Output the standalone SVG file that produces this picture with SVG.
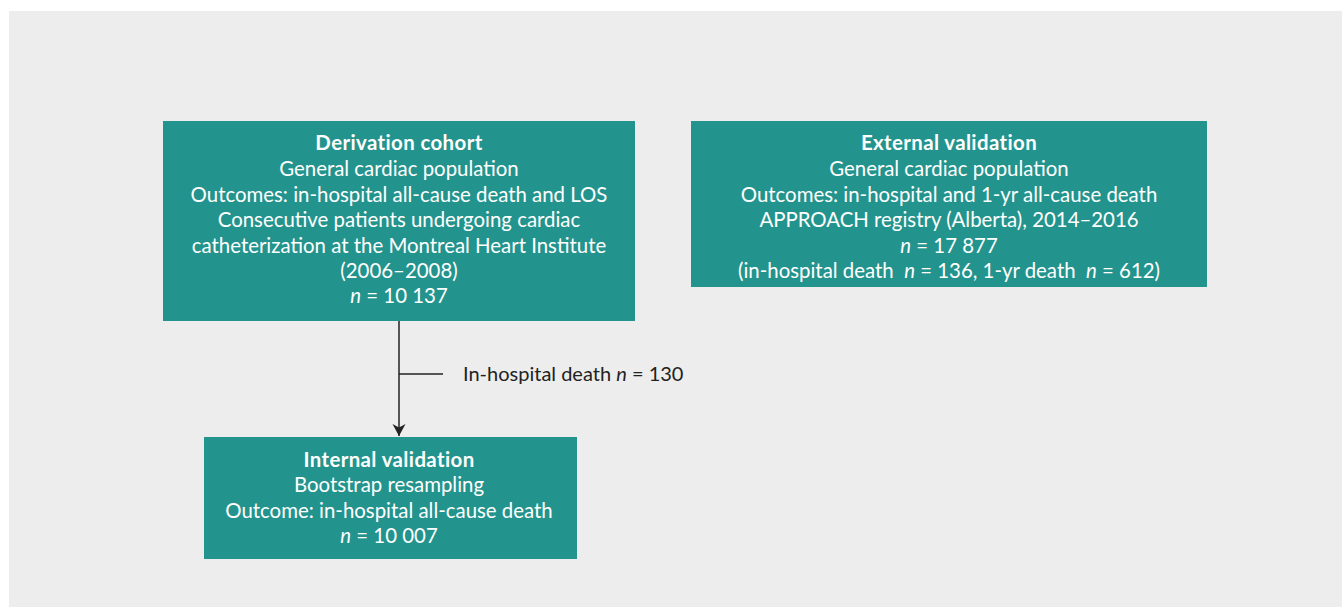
<svg xmlns="http://www.w3.org/2000/svg" width="1342" height="607" viewBox="0 0 1342 607">
<defs>
<style>
.box{fill:#23948d}
.t{font-family:Lato,"Liberation Sans",sans-serif;font-size:20.4px;fill:#ffffff;text-anchor:middle}
.b{font-weight:bold;letter-spacing:0.4px}
.pre{white-space:pre}
.lbl{font-family:Lato,"Liberation Sans",sans-serif;font-size:20px;fill:#222222}
.c{stroke:#222222;stroke-width:1.5;fill:none}
</style>
<marker id="ah" markerWidth="14" markerHeight="14" refX="12" refY="7" orient="auto" markerUnits="userSpaceOnUse">
<path d="M0,0.5 L12,7 L0,13.5 L3.5,7 Z" fill="#222222"/>
</marker>
</defs>
<rect x="9" y="11" width="1333" height="596" fill="#ededed"/>
<g id="connectors">
<line class="c" x1="399" y1="321" x2="399" y2="436" marker-end="url(#ah)"/>
<line class="c" x1="399" y1="374" x2="443" y2="374"/>
<text class="lbl" x="463" y="381">In-hospital death <tspan font-style="italic">n</tspan> = 130</text>
</g>
<g id="derivation">
<rect class="box" x="163" y="121" width="472" height="200"/>
<text class="t b" x="399" y="150">Derivation cohort</text>
<text class="t" x="399" y="176">General cardiac population</text>
<text class="t" x="399" y="202">Outcomes: in-hospital all-cause death and LOS</text>
<text class="t" x="399" y="227">Consecutive patients undergoing cardiac</text>
<text class="t" x="399" y="253">catheterization at the Montreal Heart Institute</text>
<text class="t" x="399" y="278">(2006–2008)</text>
<text class="t" x="399" y="303"><tspan font-style="italic">n</tspan> = 10 137</text>
</g>
<g id="external">
<rect class="box" x="691" y="121" width="516" height="166"/>
<text class="t b" x="949" y="150">External validation</text>
<text class="t" x="949" y="176">General cardiac population</text>
<text class="t" x="949" y="202">Outcomes: in-hospital and 1-yr all-cause death</text>
<text class="t" x="949" y="227">APPROACH registry (Alberta), 2014–2016</text>
<text class="t" x="949" y="253"><tspan font-style="italic">n</tspan> = 17 877</text>
<text class="t pre" x="949" y="278">(in-hospital death  <tspan font-style="italic">n</tspan> = 136, 1-yr death  <tspan font-style="italic">n</tspan> = 612)</text>
</g>
<g id="internal">
<rect class="box" x="204" y="437" width="373" height="122"/>
<text class="t b" x="389" y="467">Internal validation</text>
<text class="t" x="389" y="492">Bootstrap resampling</text>
<text class="t" x="389" y="518">Outcome: in-hospital all-cause death</text>
<text class="t" x="389" y="543"><tspan font-style="italic">n</tspan> = 10 007</text>
</g>
</svg>
